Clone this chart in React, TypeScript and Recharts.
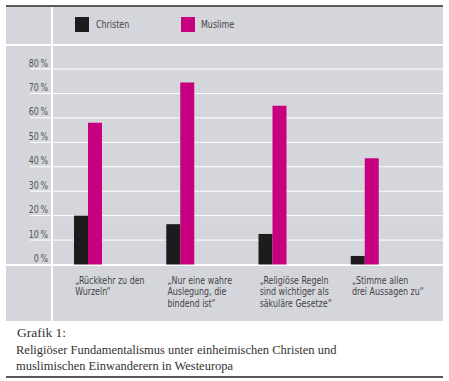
import React from 'react';
import { BarChart, Bar, XAxis, YAxis, CartesianGrid } from 'recharts';

const categories = [
  '„Rückkehr zu den\nWurzeln“',
  '„Nur eine wahre\nAuslegung, die\nbindend ist“',
  '„Religiöse Regeln\nsind wichtiger als\nsäkuläre Gesetze“',
  '„Stimme allen\ndrei Aussagen zu“',
];
const christen = [20, 16.5, 12.5, 3.5];
const muslime = [58, 74.5, 65, 43.5];
const yTicks = [0, 10, 20, 30, 40, 50, 60, 70, 80];
const seriesNames = ['Christen', 'Muslime'];
const seriesColors = ['#1c1c1c', '#c6007e'];
const title = 'Grafik 1:';
const subtitleLines = [
  'Religiöser Fundamentalismus unter einheimischen Christen und',
  'muslimischen Einwanderern in Westeuropa',
];

const data = categories.map((c, i) => ({
  cat: c,
  [seriesNames[0]]: christen[i],
  [seriesNames[1]]: muslime[i],
}));

const NARROW = '"DejaVu Sans Condensed", "DejaVu Sans", sans-serif';
const SERIF = '"Liberation Serif", serif';
const SX = 0.84;

const XTick = (props: any) => {
  const { x, y, payload } = props;
  const lines = String(payload.value).split('\n');
  return (
    <g transform={`translate(${x - 13},${y + 19.5}) scale(${SX},1)`}>
      <text x={0} y={0} fill="#444" fontSize={10.5} fontFamily={NARROW} textAnchor="start">
        {lines.map((l: string, i: number) => (
          <tspan key={i} x={0} dy={i === 0 ? 0 : 11.5}>
            {l}
          </tspan>
        ))}
      </text>
    </g>
  );
};

const YTick = (props: any) => {
  const { y, payload } = props;
  return (
    <g transform={`translate(48,${y - 2.5}) scale(${SX},1)`}>
      <text x={0} y={0} fill="#555" fontSize={10.5} fontFamily={NARROW} textAnchor="end">
        {`${payload.value}\u2009%`}
      </text>
    </g>
  );
};

export default function App() {
  return (
    <div style={{ position: 'absolute', left: 0, top: 0, width: 449, height: 381, background: '#fff', overflow: 'hidden' }}>
      {/* panel */}
      <div style={{ position: 'absolute', left: 6, top: 5, width: 437, height: 2, background: '#5a5a5a' }} />
      <div style={{ position: 'absolute', left: 6, top: 7, width: 437, height: 314, background: '#d4d6dc' }} />
      <div style={{ position: 'absolute', left: 51, top: 7, width: 2, height: 314, background: '#fff' }} />
      <div style={{ position: 'absolute', left: 6, top: 44, width: 437, height: 2, background: '#fff' }} />
      <div style={{ position: 'absolute', left: 6, top: 264, width: 437, height: 2, background: '#fff' }} />
      {/* legend */}
      {seriesNames.map((n, i) => (
        <React.Fragment key={n}>
          <div style={{ position: 'absolute', left: 75 + i * 106, top: 17, width: 14, height: 15, background: seriesColors[i] }} />
          <div style={{ position: 'absolute', left: 96 + i * 105, top: 17, fontSize: 10.5, lineHeight: '14px', fontFamily: NARROW, color: '#444', transform: `scaleX(${SX})`, transformOrigin: 'left center', whiteSpace: 'nowrap' }}>{n}</div>
        </React.Fragment>
      ))}
      <div style={{ position: 'absolute', left: 0, top: 0 }}>
        <BarChart width={449} height={381} data={data} margin={{ top: 69, right: 38, bottom: 0, left: 0 }} barGap={0} barSize={14}>
          <CartesianGrid horizontal vertical={false} stroke="#ffffff" strokeWidth={1} x={30} width={413} />
          <XAxis dataKey="cat" axisLine={false} tickLine={false} tickSize={0} tickMargin={0} height={116.5} interval={0} tick={<XTick />} />
          <YAxis width={42} domain={[0, 80]} ticks={yTicks} interval={0} axisLine={false} tickLine={false} tick={<YTick />} />
          {seriesNames.map((n, i) => (
            <Bar key={n} dataKey={n} fill={seriesColors[i]} isAnimationActive={false} />
          ))}
        </BarChart>
      </div>
      {/* caption */}
      <div style={{ position: 'absolute', left: 17, top: 325, fontSize: 13.5, lineHeight: '16px', fontFamily: SERIF, color: '#333' }}>{title}</div>
      {subtitleLines.map((l, i) => (
        <div key={i} style={{ position: 'absolute', left: 16, top: 342 + i * 16, fontSize: 12.5, lineHeight: '16px', fontFamily: SERIF, color: '#333', whiteSpace: 'nowrap' }}>{l}</div>
      ))}
      <div style={{ position: 'absolute', left: 6, top: 376, width: 437, height: 2, background: '#5a5a5a' }} />
    </div>
  );
}
